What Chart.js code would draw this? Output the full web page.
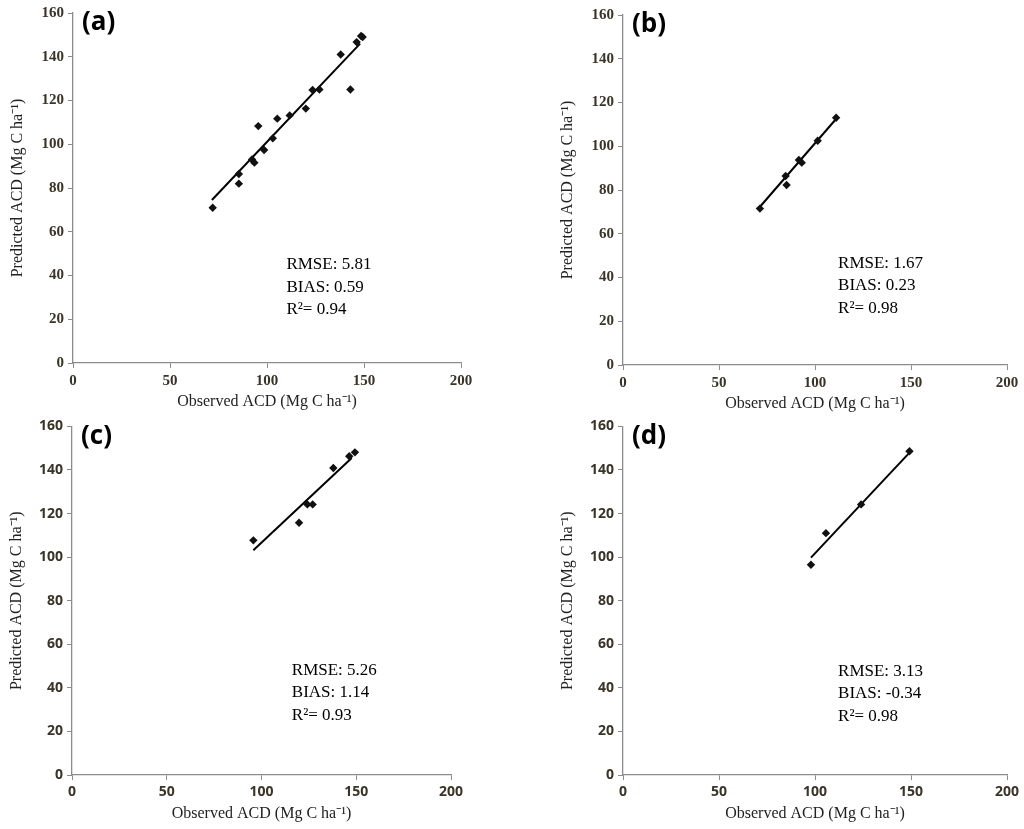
<!DOCTYPE html>
<html>
<head>
<meta charset="utf-8">
<script src="https://cdn.jsdelivr.net/npm/chart.js@4.4.0/dist/chart.umd.min.js"></script>
<style>
  body { margin: 0; background: #fff; }
  .panel { position: absolute; }
</style>
</head>
<body>
<div class="panel" style="left:0;top:0;width:512px;height:414px"><canvas id="chartA"></canvas></div>
<div class="panel" style="left:512px;top:0;width:512px;height:414px"><canvas id="chartB"></canvas></div>
<div class="panel" style="left:0;top:414px;width:512px;height:415px"><canvas id="chartC"></canvas></div>
<div class="panel" style="left:512px;top:414px;width:512px;height:415px"><canvas id="chartD"></canvas></div>
<script>
// observed / predicted ACD
const obsA = [72, 85.5, 85.5, 92.3, 93.5, 95.5, 98.5, 103, 105.3, 111.7, 120, 123.5, 127, 138, 143, 146.2, 148.5, 149.3];
const predA = [71, 82, 86.4, 93, 91.6, 108.3, 97.4, 102.7, 111.7, 113.2, 116.3, 124.8, 125, 141, 125, 146.7, 149.5, 149];
const fitA = [[71.6, 74.5], [148, 146]];

const obsB = [71.3, 85.2, 84.7, 91.6, 93.1, 101.4, 111];
const predB = [71.5, 82.3, 86.4, 93.7, 92.5, 102.5, 113];
const fitB = [[71, 72], [111.3, 112.8]];

const obsC = [95.7, 119.8, 124.2, 127, 137.9, 146.3, 149.3];
const predC = [107.7, 115.8, 124.2, 124.2, 140.9, 146.3, 148.1];
const fitC = [[95.7, 103.2], [147.6, 145.5]];

const obsD = [97.9, 105.7, 124, 149.2];
const predD = [96.5, 111, 124.2, 148.6];
const fitD = [[97.9, 99.8], [149.6, 148.3]];

const panelLabels = ['(a)', '(b)', '(c)', '(d)'];
const rmse = ['5.81', '1.67', '5.26', '3.13'];
const bias = ['0.59', '0.23', '1.14', '-0.34'];
const r2 = ['0.94', '0.98', '0.93', '0.98'];
// where the stats text sits, in data units (x, y of first line)
const statsX = [110, 112, 116, 112];
const statsY = [45, 46.6, 48, 47.5];
const statsStep = 10.3;

const xTicksMax = 200;
const yTicksMax = 160;

const Y_W = 69, X_H = 48;
const pads = [
  { left: 4, top: 13, right: 51, bottom: 3 },
  { left: 42, top: 15, right: 17, bottom: 1 },
  { left: 3, top: 11, right: 61, bottom: 6 },
  { left: 42, top: 11, right: 17, bottom: 6 },
];

const textPlugin = {
  id: 'panelText',
  afterDatasetsDraw(chart, args, opts) {
    const c = chart.ctx;
    const xs = chart.scales.x, ys = chart.scales.y;
    c.save();
    c.fillStyle = '#000';
    c.font = 'bold 26px "Open Sans", "DejaVu Sans", sans-serif';
    c.textBaseline = 'middle';
    c.textAlign = 'left';
    c.fillText(opts.label, chart.chartArea.left + 9, chart.chartArea.top + 10);
    c.font = '17px "Liberation Serif", "Times New Roman", serif';
    const px = xs.getPixelForValue(opts.sx);
    const lines = ['RMSE: ' + opts.rmse, 'BIAS: ' + opts.bias, 'R\u00b2= ' + opts.r2];
    lines.forEach((t, i) => {
      c.fillText(t, px, ys.getPixelForValue(opts.sy - i * statsStep));
    });
    c.restore();
  }
};

function makeChart(id, idx, obs, pred, fit, serifTicks) {
  const tickFont = serifTicks
    ? { family: '"Liberation Serif", serif', size: 15, weight: 'bold' }
    : { family: '"Open Sans", "DejaVu Sans", sans-serif', size: 14, weight: 'bold' };
  const axisCommon = {
    type: 'linear',
    min: 0,
    grid: { display: true, drawOnChartArea: false, drawTicks: true, tickLength: 5, color: '#8c8c8c', lineWidth: 1 },
    border: { display: true, color: '#8c8c8c', width: 1.3 },
    ticks: { color: '#3a3328', font: tickFont, padding: 4 },
    title: {
      display: true,
      color: '#222',
      font: { family: '"Liberation Serif", "Times New Roman", serif', size: 16 },
    },
  };
  return new Chart(document.getElementById(id), {
    type: 'scatter',
    data: {
      datasets: [
        {
          label: 'obs',
          data: obs.map((v, i) => ({ x: v, y: pred[i] })),
          pointStyle: 'rectRot',
          pointRadius: 4.2,
          backgroundColor: '#111',
          borderColor: '#111',
          borderWidth: 0,
        },
        {
          label: 'fit',
          type: 'line',
          data: fit.map(p => ({ x: p[0], y: p[1] })),
          borderColor: '#000',
          borderWidth: 2,
          pointRadius: 0,
          fill: false,
        },
      ],
    },
    options: {
      responsive: true,
      maintainAspectRatio: false,
      animation: false,
      layout: { padding: pads[idx] },
      plugins: {
        legend: { display: false },
        tooltip: { enabled: false },
        panelText: { label: panelLabels[idx], rmse: rmse[idx], bias: bias[idx], r2: r2[idx], sx: statsX[idx], sy: statsY[idx] },
      },
      scales: {
        x: Object.assign({}, axisCommon, {
          max: xTicksMax,
          ticks: Object.assign({}, axisCommon.ticks, { stepSize: 50, maxRotation: 0 }),
          title: Object.assign({}, axisCommon.title, { text: 'Observed ACD (Mg C ha\u207b\u00b9)', padding: { top: -2, bottom: 0 } }),
          afterFit(s) { s.height = X_H; },
        }),
        y: Object.assign({}, axisCommon, {
          max: yTicksMax,
          ticks: Object.assign({}, axisCommon.ticks, { stepSize: 20 }),
          title: Object.assign({}, axisCommon.title, { text: 'Predicted ACD (Mg C ha\u207b\u00b9)', padding: { top: 4, bottom: 0 } }),
          afterFit(s) { s.width = Y_W; },
        }),
      },
    },
    plugins: [textPlugin],
  });
}

makeChart('chartA', 0, obsA, predA, fitA, true);
makeChart('chartB', 1, obsB, predB, fitB, true);
makeChart('chartC', 2, obsC, predC, fitC, false);
makeChart('chartD', 3, obsD, predD, fitD, false);
</script>
</body>
</html>
